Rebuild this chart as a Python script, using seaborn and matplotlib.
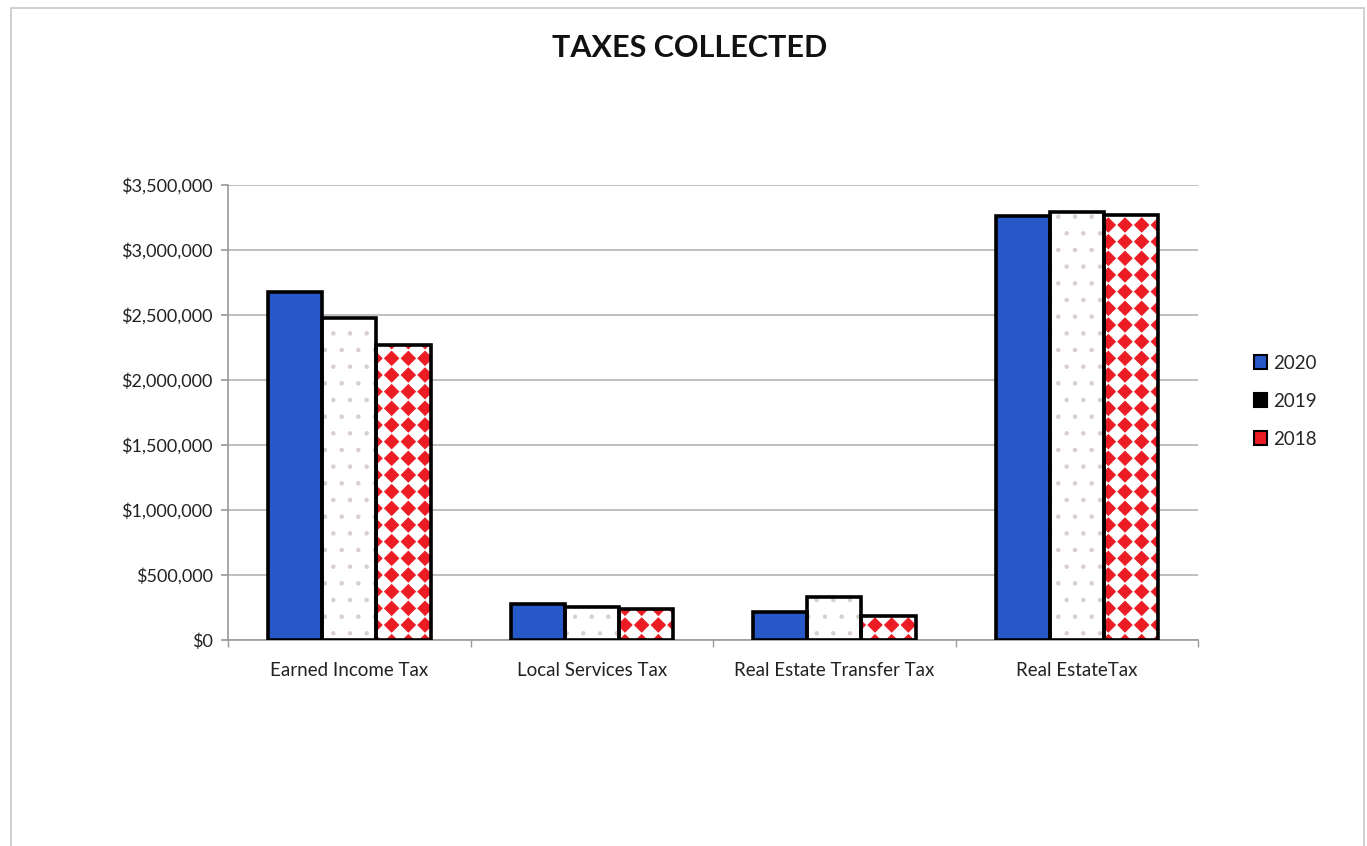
import matplotlib
matplotlib.use("Agg")
import matplotlib.pyplot as plt
import matplotlib.hatch as mhatch
from matplotlib.path import Path
import seaborn as sns
import pandas as pd
import numpy as np
from matplotlib.patches import Rectangle, Patch
from matplotlib.ticker import FuncFormatter, FixedLocator

categories = ["Earned Income Tax", "Local Services Tax", "Real Estate Transfer Tax", "Real EstateTax"]
years = ["2020", "2019", "2018"]
v2020 = [2677000, 277000, 215000, 3262000]
v2019 = [2477000, 254000, 331000, 3292000]
v2018 = [2269000, 238000, 185000, 3269000]
yticks = [0, 500000, 1000000, 1500000, 2000000, 2500000, 3000000, 3500000]
title = "TAXES COLLECTED"


class DiamondGrid(mhatch.HatchPatternBase):
    """Axis-aligned lattice of filled diamonds (checkerboard look)."""
    def __init__(self, hatch, density):
        self.n = int(hatch.count('*') * 6)
        self.num_vertices = self.n * self.n * 5

    def set_vertices_and_codes(self, vertices, codes):
        n = self.n
        h = 0.42 / n
        shape = np.array([[0, -h], [h, 0], [0, h], [-h, 0], [0, -h]])
        k = 0
        for i in range(n):
            for j in range(n):
                c = np.array([(i + 0.5) / n, (j + 0.5) / n])
                vertices[k:k + 5] = shape + c
                codes[k:k + 5] = [Path.MOVETO, Path.LINETO, Path.LINETO,
                                  Path.LINETO, Path.CLOSEPOLY]
                k += 5


mhatch._hatch_types = [t for t in mhatch._hatch_types if t is not mhatch.Stars] + [DiamondGrid]

sns.set_theme(style="white")
plt.rcParams['font.family'] = ['Lato', 'DejaVu Sans']
plt.rcParams['hatch.linewidth'] = 0.8

rows = []
for y, vals in zip(years, [v2020, v2019, v2018]):
    for c, v in zip(categories, vals):
        rows.append({"category": c, "year": y, "value": v})
df = pd.DataFrame(rows)

blue = "#2758c8"
red = "#ec1c24"
fig = plt.figure(figsize=(13.67, 8.46), dpi=100)
ax = fig.add_axes([0.1668, 0.2435, 0.7096, 0.5378])

sns.barplot(data=df, x="category", y="value", hue="year", order=categories,
            hue_order=years, palette=[blue, "white", red], width=0.67,
            ax=ax, legend=False, saturation=1, zorder=3)

n = len(categories)
styles = {
    "2020": dict(fc=blue, hc=blue, hatch=None),
    "2019": dict(fc="white", hc="#d9cfcf", hatch="."),
    "2018": dict(fc="white", hc=red, hatch="*"),
}
bars = [p for p in ax.patches if isinstance(p, Rectangle)][:n * len(years)]
for i, p in enumerate(bars):
    yr = years[i // n]
    st = styles[yr]
    p.set_facecolor(st["fc"])
    p.set_edgecolor(st["hc"])
    p.set_linewidth(0)
    if st["hatch"]:
        p.set_hatch(st["hatch"])
    outline = Rectangle(p.get_xy(), p.get_width(), p.get_height(), fill=False,
                        ec="black", lw=2.6, zorder=4, joinstyle="miter")
    ax.add_patch(outline)

ax.set_ylim(0, 3500000)
ax.set_xlim(-0.5, n - 0.5)
ax.yaxis.set_major_locator(FixedLocator(yticks))
ax.yaxis.set_major_formatter(FuncFormatter(lambda v, _: "${:,.0f}".format(v)))
ax.grid(axis="y", color="#b4b4b4", linewidth=1.2, zorder=0)
ax.set_axisbelow(True)
ax.set_xlabel("")
ax.set_ylabel("")
for s in ["top", "right"]:
    ax.spines[s].set_visible(False)
for s in ["left", "bottom"]:
    ax.spines[s].set_color("#9a9a9a")
    ax.spines[s].set_linewidth(1.2)
ax.tick_params(axis="y", labelsize=13, colors="#222222", left=True, length=5,
               color="#9a9a9a", pad=6)
ax.tick_params(axis="x", labelsize=13.5, colors="#222222", bottom=False, pad=10)
ax.set_xticks(range(n))
ax.set_xticklabels(categories)
ax.set_xticks(np.arange(-0.5, n, 1.0), minor=True)
ax.tick_params(axis="x", which="minor", bottom=True, length=5, color="#9a9a9a")

handles = [Patch(fc=blue, ec="black", lw=1.5),
           Patch(fc="black", ec="black", lw=1.5),
           Patch(fc=red, ec="black", lw=1.5)]
leg = fig.legend(handles, years, loc="center left", bbox_to_anchor=(0.905, 0.526),
                 frameon=False, fontsize=13.5, handlelength=0.7, handleheight=0.7,
                 handletextpad=0.3, labelspacing=1.12)

fig.text(0.5045, 0.943, title, ha="center", va="center", fontsize=22,
         fontweight="bold", color="#111111")

fig.patches.append(Rectangle((0.008, -0.01), 0.99, 1.0, transform=fig.transFigure,
                             fill=False, ec="#c8c8c8", lw=1.2))

fig.savefig("out.png", dpi=100)
